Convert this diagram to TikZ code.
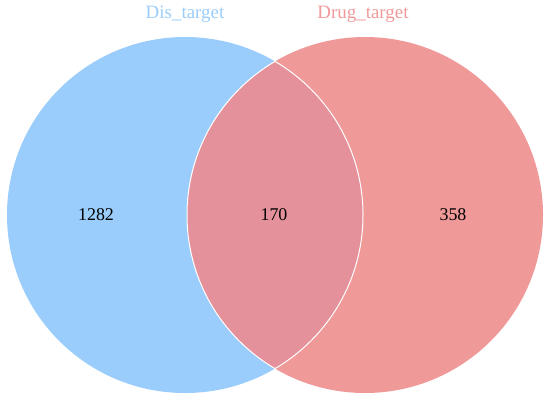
\documentclass[tikz,border=0pt]{standalone}
\usepackage{fontspec}
\setmainfont{Liberation Serif}
\definecolor{disblue}{RGB}{154,205,251}
\definecolor{drugred}{RGB}{240,153,153}
\definecolor{overlap}{RGB}{229,145,155}
\begin{document}
\begin{tikzpicture}[x=1bp,y=-1bp,
  setlabel/.style={font=\fontsize{19}{22}\selectfont, anchor=center},
  countlabel/.style={font=\fontsize{18}{21}\selectfont, text=black, anchor=center},
  setcircle/.style={draw=white, line width=1bp}]
\useasboundingbox (0,0) rectangle (550,400);
\coordinate (cl) at (185,215);
\coordinate (cr) at (365,215);
% fills
\fill[disblue] (cl) circle[radius=178];
\fill[drugred] (cr) circle[radius=178];
\begin{scope}
  \clip (cl) circle[radius=178];
  \fill[overlap] (cr) circle[radius=178];
\end{scope}
% white outlines visible within overlap
\begin{scope}
  \clip (cl) circle[radius=178];
  \draw[setcircle] (cr) circle[radius=178];
\end{scope}
\begin{scope}
  \clip (cr) circle[radius=178];
  \draw[setcircle] (cl) circle[radius=178];
\end{scope}
\node[setlabel, text=disblue] (lA) at (185,14) {Dis\_target};
\node[setlabel, text=drugred] (lB) at (363,14) {Drug\_target};
\node[countlabel] (nA) at (96,215) {1282};
\node[countlabel] (nAB) at (274,215) {170};
\node[countlabel] (nB) at (453,215) {358};
\end{tikzpicture}
\end{document}
